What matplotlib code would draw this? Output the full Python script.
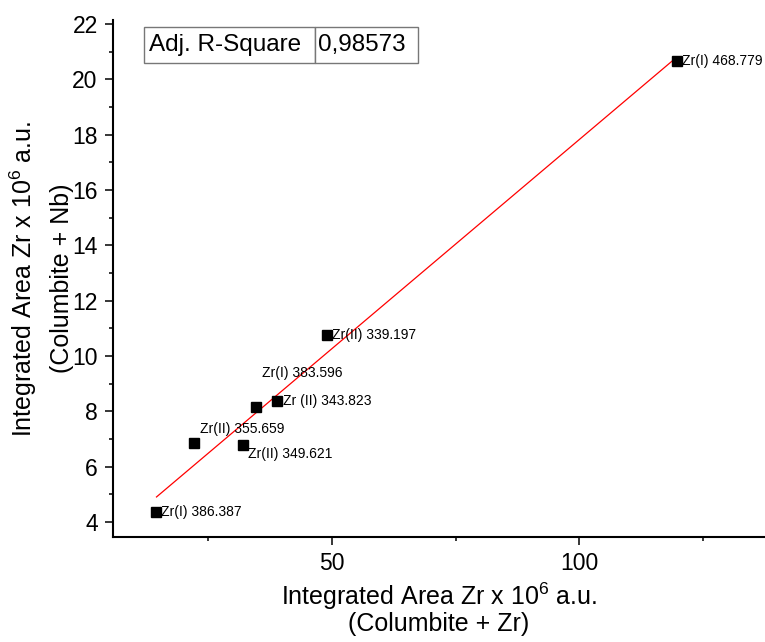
import numpy as np
import matplotlib
matplotlib.use("Agg")
import matplotlib.pyplot as plt
from matplotlib.ticker import MultipleLocator

plt.rcParams['font.family'] = ['Liberation Sans', 'DejaVu Sans']
plt.rcParams['mathtext.fontset'] = 'custom'
plt.rcParams['mathtext.rm'] = 'Liberation Sans'
plt.rcParams['mathtext.it'] = 'Liberation Sans'

# emission lines, x = columbite + Zr, y = columbite + Nb (areas x 10^6 a.u.)
lines = ["Zr(I) 386.387", "Zr(II) 355.659", "Zr(II) 349.621", "Zr(I) 383.596",
         "Zr (II) 343.823", "Zr(II) 339.197", "Zr(I) 468.779"]
area_zr = [14.5, 22.1, 32.0, 34.7, 38.9, 49.0, 119.8]
area_nb = [4.35, 6.86, 6.8, 8.15, 8.38, 10.77, 20.67]
adj_r2 = "0,98573"

# label offsets in pixels from the marker
offsets = [(5, 0), (6, 14), (5, -9), (6, 34), (6, 0), (5, 0), (5, 0)]

fig = plt.figure(figsize=(7.65, 6.42), dpi=100)
ax = fig.add_axes([113 / 765, 1 - 537 / 642, 1 - 113 / 765, 517 / 642])

x = np.array(area_zr)
y = np.array(area_nb)
slope, intercept = np.polyfit(x, y, 1)
xf = np.array([x.min(), x.max()])
ax.plot(xf, slope * xf + intercept, color='red', lw=0.9, zorder=2)
ax.plot(x, y, 's', color='black', markersize=7.2, zorder=3)

for name, xi, yi, off in zip(lines, area_zr, area_nb, offsets):
    ax.annotate(name, (xi, yi), xytext=off, textcoords='offset pixels',
                fontsize=10, ha='left', va='center', zorder=4)

ax.set_xlim(5.7, 137.6)
ax.set_ylim(3.46, 22.14)
ax.xaxis.set_major_locator(MultipleLocator(50))
ax.xaxis.set_minor_locator(MultipleLocator(25))
ax.yaxis.set_major_locator(MultipleLocator(2))
ax.yaxis.set_minor_locator(MultipleLocator(1))

for s in ['top', 'right']:
    ax.spines[s].set_visible(False)
for s in ['left', 'bottom']:
    ax.spines[s].set_linewidth(1.5)

ax.tick_params(which='major', direction='out', length=6, width=1.1,
               labelsize=16.5, pad=5)
ax.tick_params(which='minor', direction='out', length=3, width=1.1)

ax.set_xlabel("Integrated Area Zr x 10$^6$ a.u.\n(Columbite + Zr)",
              fontsize=18, linespacing=1.0, labelpad=4)
ax.set_ylabel("Integrated Area Zr x 10$^6$ a.u.\n(Columbite + Nb)",
              fontsize=18, linespacing=1.55, labelpad=-1)

tbl = ax.table(cellText=[["Adj. R-Square", adj_r2]], cellLoc='left',
               colWidths=[171, 103],
               bbox=[(144 - 113) / 652, (537 - 63) / 517, 274 / 652, 36 / 517])
tbl.auto_set_font_size(False)
tbl.set_fontsize(17.5)
for (r, c), cell in tbl.get_celld().items():
    cell.set_edgecolor('#777777')
    cell.set_linewidth(1.0)
    cell.PAD = 0.03

fig.savefig("out.png", dpi=100)
